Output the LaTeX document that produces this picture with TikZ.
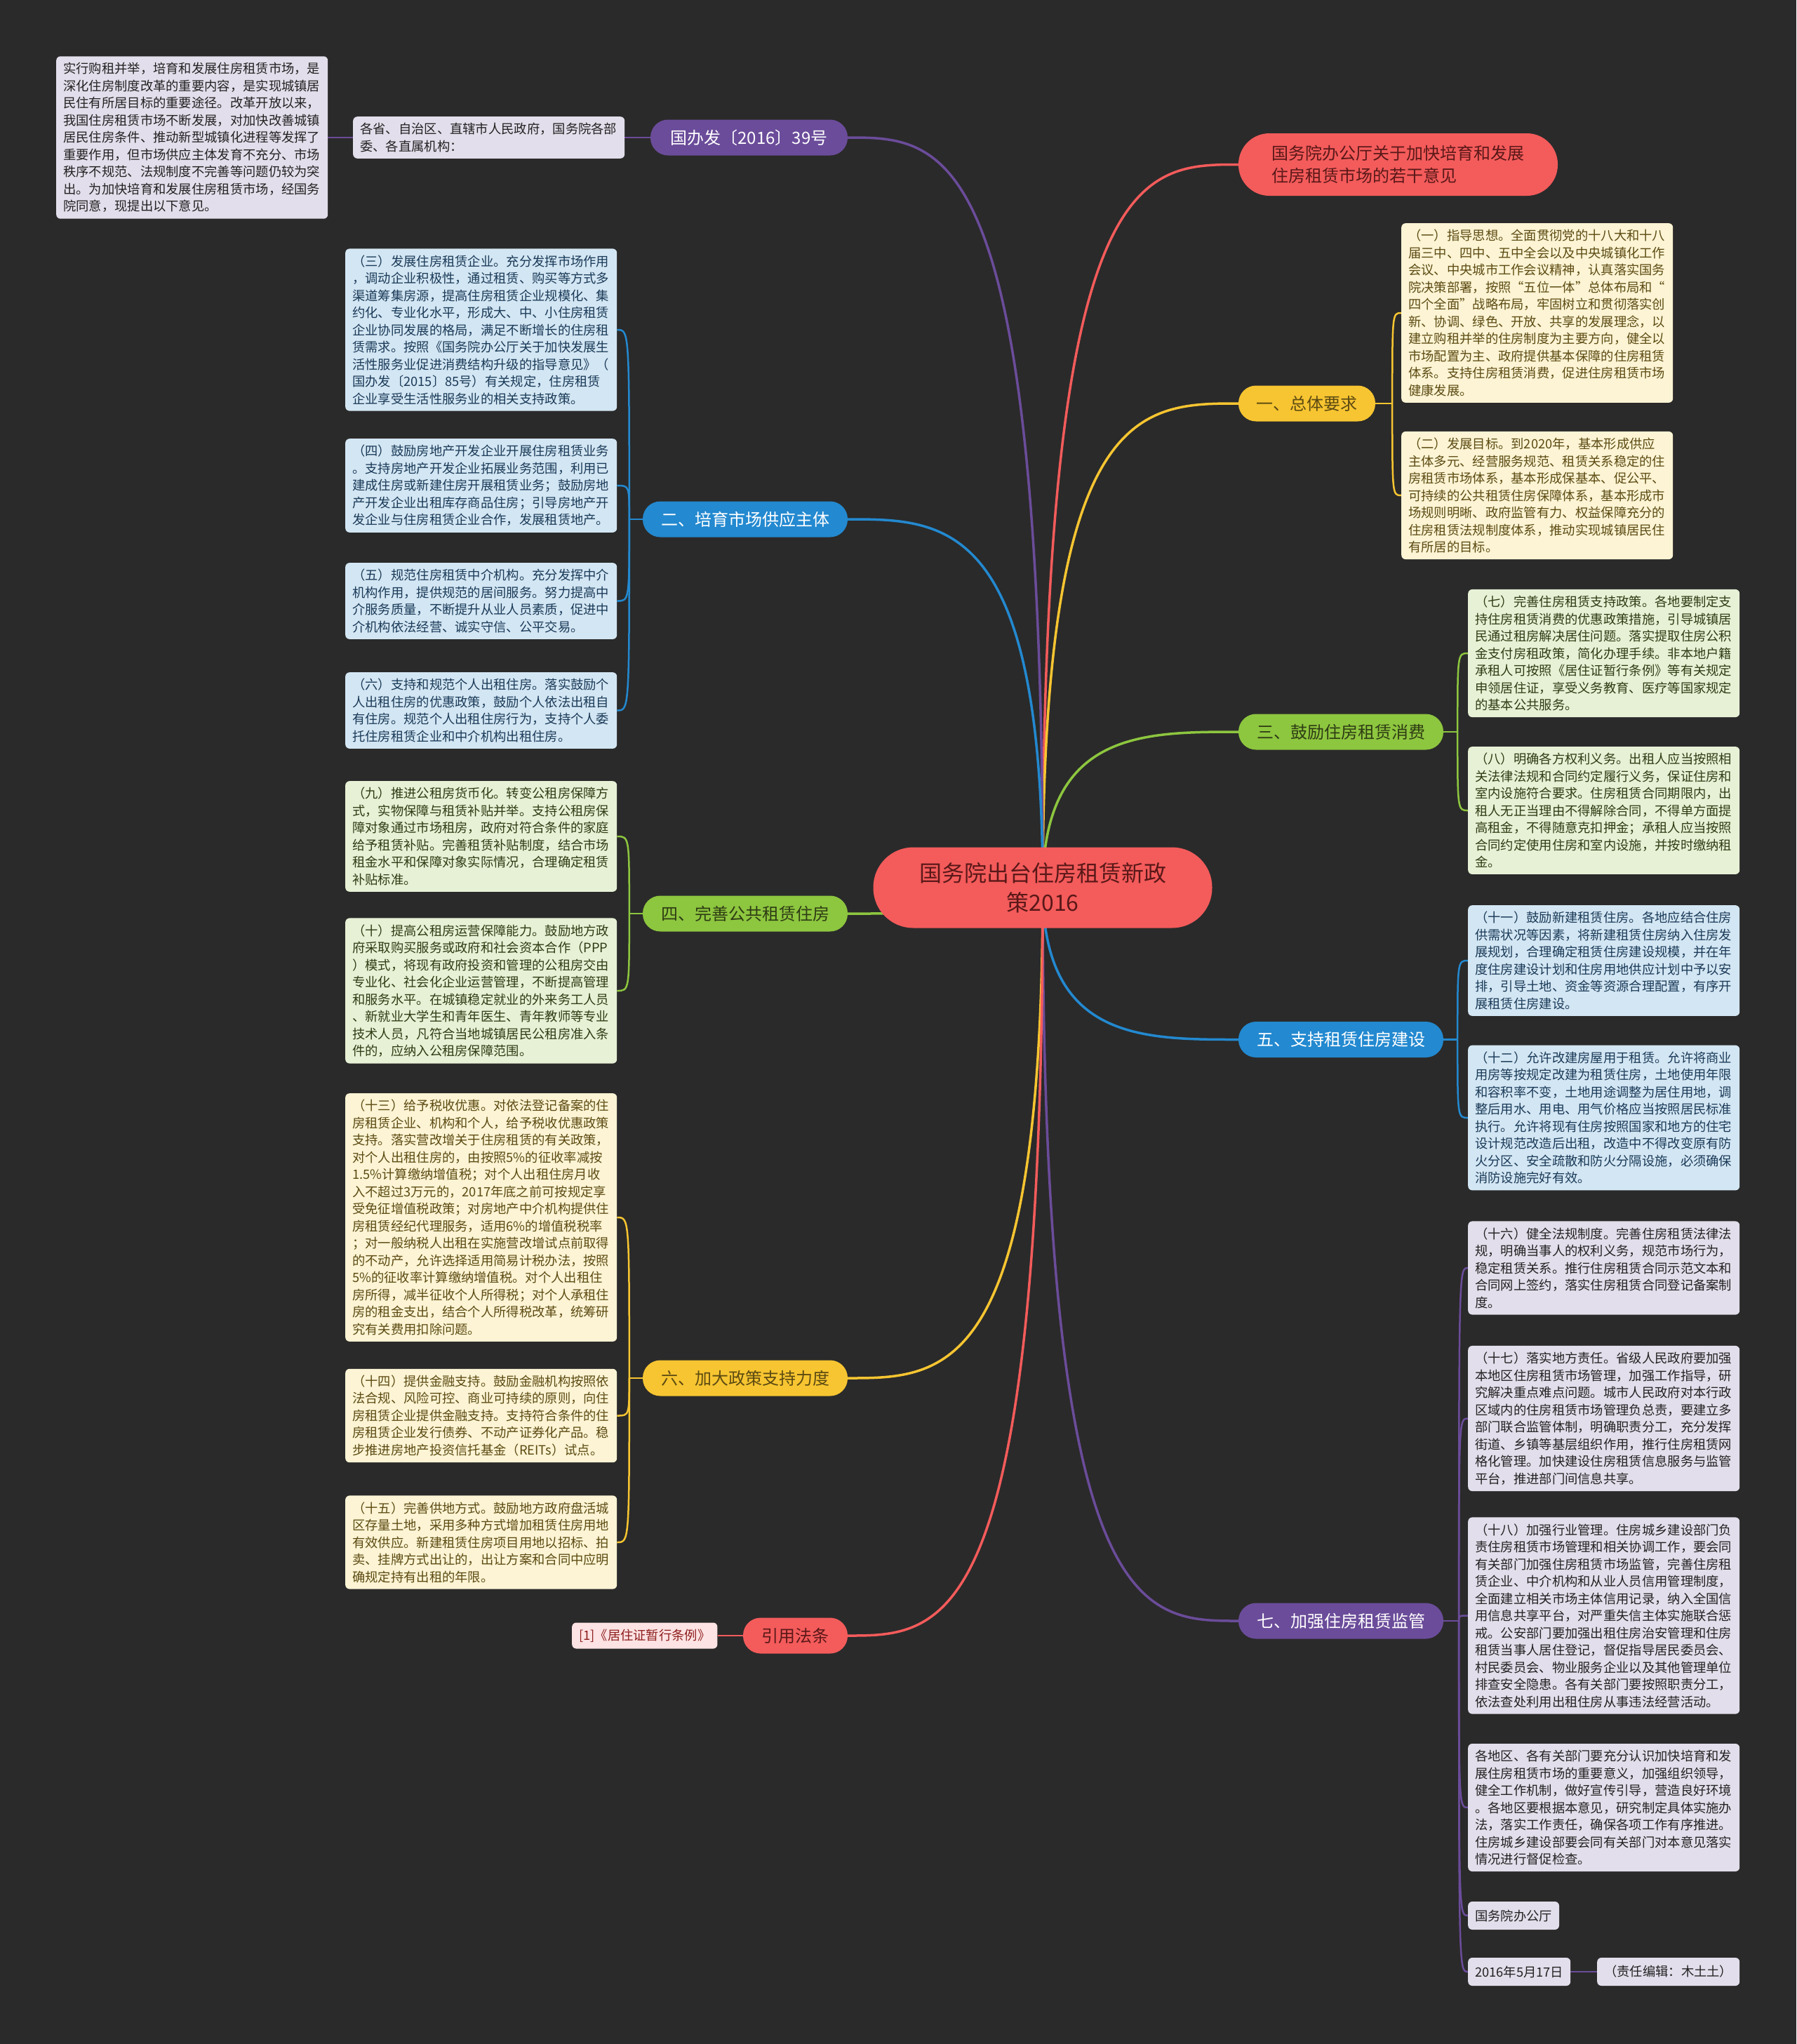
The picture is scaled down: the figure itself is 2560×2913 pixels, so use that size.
\documentclass[tikz,border=0pt]{standalone}
\usepackage{fontspec}
\setmainfont{Noto Sans CJK SC}
\usetikzlibrary{calc}
\definecolor{bgc}{HTML}{2A2A2A}
\definecolor{cRed}{HTML}{F45B5B}
\definecolor{cYel}{HTML}{F7C531}
\definecolor{cGrn}{HTML}{8DC63F}
\definecolor{cBlu}{HTML}{2389D0}
\definecolor{cPur}{HTML}{6B4C9A}
\definecolor{fLav}{HTML}{E3DEEB}
\definecolor{fBlu}{HTML}{D3E6F3}
\definecolor{fGrn}{HTML}{E7F1D6}
\definecolor{fYel}{HTML}{FCF4D4}
\definecolor{fPnk}{HTML}{FDE3E3}
\definecolor{tDark}{HTML}{222222}
\definecolor{tBlu}{HTML}{1A3A58}
\definecolor{tGrn}{HTML}{2E3C14}
\definecolor{tYel}{HTML}{5C4A12}
\definecolor{tRed}{HTML}{5A1818}
\definecolor{tPnk}{HTML}{8E1E1E}
\pgfdeclarelayer{bg}
\pgfsetlayers{bg,main}
\tikzset{
  leafbox/.style={rounded corners=6pt, inner xsep=10pt, inner ysep=9pt, text width=367pt, align=left, anchor=west, font=\fontsize{18.3}{24.5}\selectfont},
  tagbox/.style={rounded corners=6pt, inner xsep=10pt, inner ysep=0pt, minimum height=40pt, anchor=west, font=\fontsize{18.3}{24.5}\selectfont},
  lav/.style={fill=fLav, text=tDark},
  lblu/.style={fill=fBlu, text=tBlu},
  lgrn/.style={fill=fGrn, text=tGrn},
  lyel/.style={fill=fYel, text=tYel},
  lpnk/.style={fill=fPnk, text=tPnk},
  pill/.style={rounded corners=25pt, inner sep=0pt, minimum height=51pt, font=\fontsize{24}{32}\selectfont},
  edge/.style={line width=3.5pt},
  sub/.style={line width=2.5pt},
}
\begin{document}
\begin{tikzpicture}[x=1pt,y=-1pt]
\useasboundingbox (0,0) rectangle (2560,2913);

% ---------- root ----------
\node[rounded corners=57pt, fill=cRed, text=tRed, minimum width=483pt, minimum height=115pt, inner sep=0pt, align=center, font=\fontsize{32}{42}\selectfont] (root) at (1486,1265) {国务院出台住房租赁新政\\策2016};

% ---------- branches ----------
\node[pill, fill=cRed, text=tRed, minimum width=455pt, minimum height=89pt, rounded corners=44pt, align=left] (t0) at (1992.5,234.5) {国务院办公厅关于加快培育和发展\\住房租赁市场的若干意见};
\node[pill, fill=cYel, text=tYel, minimum width=195pt] (b1) at (1862.5,575) {一、总体要求};
\node[pill, fill=cGrn, text=tGrn, minimum width=292pt] (b3) at (1911,1043) {三、鼓励住房租赁消费};
\node[pill, fill=cBlu, text=white, minimum width=292pt] (b5) at (1911,1481.5) {五、支持租赁住房建设};
\node[pill, fill=cPur, text=white, minimum width=292pt] (b7) at (1911,2310) {七、加强住房租赁监管};

\node[pill, fill=cPur, text=white, minimum width=281pt] (gb) at (1067.5,196) {国办发〔2016〕39号};
\node[pill, fill=cBlu, text=white, minimum width=292pt] (b2) at (1062,740) {二、培育市场供应主体};
\node[pill, fill=cGrn, text=tGrn, minimum width=292pt] (b4) at (1062,1302) {四、完善公共租赁住房};
\node[pill, fill=cYel, text=tYel, minimum width=292pt] (b6) at (1062,1964) {六、加大政策支持力度};
\node[pill, fill=cRed, text=tRed, minimum width=149pt] (yy) at (1133.5,2331) {引用法条};

% ---------- left leaves ----------
\node[leafbox, lav] (tl) at (80,196) {实行购租并举，培育和发展住房租赁市场，是\\深化住房制度改革的重要内容，是实现城镇居\\民住有所居目标的重要途径。改革开放以来，\\我国住房租赁市场不断发展，对加快改善城镇\\居民住房条件、推动新型城镇化进程等发挥了\\重要作用，但市场供应主体发育不充分、市场\\秩序不规范、法规制度不完善等问题仍较为突\\出。为加快培育和发展住房租赁市场，经国务\\院同意，现提出以下意见。};
\node[leafbox, lav] (gs) at (503,196) {各省、自治区、直辖市人民政府，国务院各部\\委、各直属机构：};

\node[leafbox, lblu] (l3) at (492,470) {（三）发展住房租赁企业。充分发挥市场作用\\，调动企业积极性，通过租赁、购买等方式多\\渠道筹集房源，提高住房租赁企业规模化、集\\约化、专业化水平，形成大、中、小住房租赁\\企业协同发展的格局，满足不断增长的住房租\\赁需求。按照《国务院办公厅关于加快发展生\\活性服务业促进消费结构升级的指导意见》（\\国办发〔2015〕85号）有关规定，住房租赁\\企业享受生活性服务业的相关支持政策。};
\node[leafbox, lblu] (l4) at (492,692) {（四）鼓励房地产开发企业开展住房租赁业务\\。支持房地产开发企业拓展业务范围，利用已\\建成住房或新建住房开展租赁业务；鼓励房地\\产开发企业出租库存商品住房；引导房地产开\\发企业与住房租赁企业合作，发展租赁地产。};
\node[leafbox, lblu] (l5) at (492,856.5) {（五）规范住房租赁中介机构。充分发挥中介\\机构作用，提供规范的居间服务。努力提高中\\介服务质量，不断提升从业人员素质，促进中\\介机构依法经营、诚实守信、公平交易。};
\node[leafbox, lblu] (l6) at (492,1012.5) {（六）支持和规范个人出租住房。落实鼓励个\\人出租住房的优惠政策，鼓励个人依法出租自\\有住房。规范个人出租住房行为，支持个人委\\托住房租赁企业和中介机构出租住房。};

\node[leafbox, lgrn] (l9) at (492,1192) {（九）推进公租房货币化。转变公租房保障方\\式，实物保障与租赁补贴并举。支持公租房保\\障对象通过市场租房，政府对符合条件的家庭\\给予租赁补贴。完善租赁补贴制度，结合市场\\租金水平和保障对象实际情况，合理确定租赁\\补贴标准。};
\node[leafbox, lgrn] (l10) at (492,1412) {（十）提高公租房运营保障能力。鼓励地方政\\府采取购买服务或政府和社会资本合作（PPP\\）模式，将现有政府投资和管理的公租房交由\\专业化、社会化企业运营管理，不断提高管理\\和服务水平。在城镇稳定就业的外来务工人员\\、新就业大学生和青年医生、青年教师等专业\\技术人员，凡符合当地城镇居民公租房准入条\\件的，应纳入公租房保障范围。};

\node[leafbox, lyel] (l13) at (492,1735) {（十三）给予税收优惠。对依法登记备案的住\\房租赁企业、机构和个人，给予税收优惠政策\\支持。落实营改增关于住房租赁的有关政策，\\对个人出租住房的，由按照5\%的征收率减按\\1.5\%计算缴纳增值税；对个人出租住房月收\\入不超过3万元的，2017年底之前可按规定享\\受免征增值税政策；对房地产中介机构提供住\\房租赁经纪代理服务，适用6\%的增值税税率\\；对一般纳税人出租在实施营改增试点前取得\\的不动产，允许选择适用简易计税办法，按照\\5\%的征收率计算缴纳增值税。对个人出租住\\房所得，减半征收个人所得税；对个人承租住\\房的租金支出，结合个人所得税改革，统筹研\\究有关费用扣除问题。};
\node[leafbox, lyel] (l14) at (492,2017.5) {（十四）提供金融支持。鼓励金融机构按照依\\法合规、风险可控、商业可持续的原则，向住\\房租赁企业提供金融支持。支持符合条件的住\\房租赁企业发行债券、不动产证券化产品。稳\\步推进房地产投资信托基金（REITs）试点。};
\node[leafbox, lyel] (l15) at (492,2198) {（十五）完善供地方式。鼓励地方政府盘活城\\区存量土地，采用多种方式增加租赁住房用地\\有效供应。新建租赁住房项目用地以招标、拍\\卖、挂牌方式出让的，出让方案和合同中应明\\确规定持有出租的年限。};

\node[tagbox, lpnk, minimum height=37pt] (ref) at (815,2331) {[1]《居住证暂行条例》};

% ---------- right leaves ----------
\node[leafbox, lyel] (l1) at (1997,446) {（一）指导思想。全面贯彻党的十八大和十八\\届三中、四中、五中全会以及中央城镇化工作\\会议、中央城市工作会议精神，认真落实国务\\院决策部署，按照“五位一体”总体布局和“\\四个全面”战略布局，牢固树立和贯彻落实创\\新、协调、绿色、开放、共享的发展理念，以\\建立购租并举的住房制度为主要方向，健全以\\市场配置为主、政府提供基本保障的住房租赁\\体系。支持住房租赁消费，促进住房租赁市场\\健康发展。};
\node[leafbox, lyel] (l2) at (1997,706) {（二）发展目标。到2020年，基本形成供应\\主体多元、经营服务规范、租赁关系稳定的住\\房租赁市场体系，基本形成保基本、促公平、\\可持续的公共租赁住房保障体系，基本形成市\\场规则明晰、政府监管有力、权益保障充分的\\住房租赁法规制度体系，推动实现城镇居民住\\有所居的目标。};

\node[leafbox, lgrn] (l7) at (2092,931) {（七）完善住房租赁支持政策。各地要制定支\\持住房租赁消费的优惠政策措施，引导城镇居\\民通过租房解决居住问题。落实提取住房公积\\金支付房租政策，简化办理手续。非本地户籍\\承租人可按照《居住证暂行条例》等有关规定\\申领居住证，享受义务教育、医疗等国家规定\\的基本公共服务。};
\node[leafbox, lgrn] (l8) at (2092,1155) {（八）明确各方权利义务。出租人应当按照相\\关法律法规和合同约定履行义务，保证住房和\\室内设施符合要求。住房租赁合同期限内，出\\租人无正当理由不得解除合同，不得单方面提\\高租金，不得随意克扣押金；承租人应当按照\\合同约定使用住房和室内设施，并按时缴纳租\\金。};

\node[leafbox, lblu] (l11) at (2092,1369) {（十一）鼓励新建租赁住房。各地应结合住房\\供需状况等因素，将新建租赁住房纳入住房发\\展规划，合理确定租赁住房建设规模，并在年\\度住房建设计划和住房用地供应计划中予以安\\排，引导土地、资金等资源合理配置，有序开\\展租赁住房建设。};
\node[leafbox, lblu] (l12) at (2092,1593) {（十二）允许改建房屋用于租赁。允许将商业\\用房等按规定改建为租赁住房，土地使用年限\\和容积率不变，土地用途调整为居住用地，调\\整后用水、用电、用气价格应当按照居民标准\\执行。允许将现有住房按照国家和地方的住宅\\设计规范改造后出租，改造中不得改变原有防\\火分区、安全疏散和防火分隔设施，必须确保\\消防设施完好有效。};

\node[leafbox, lav] (l16) at (2092,1807) {（十六）健全法规制度。完善住房租赁法律法\\规，明确当事人的权利义务，规范市场行为，\\稳定租赁关系。推行住房租赁合同示范文本和\\合同网上签约，落实住房租赁合同登记备案制\\度。};
\node[leafbox, lav] (l17) at (2092,2021.5) {（十七）落实地方责任。省级人民政府要加强\\本地区住房租赁市场管理，加强工作指导，研\\究解决重点难点问题。城市人民政府对本行政\\区域内的住房租赁市场管理负总责，要建立多\\部门联合监管体制，明确职责分工，充分发挥\\街道、乡镇等基层组织作用，推行住房租赁网\\格化管理。加快建设住房租赁信息服务与监管\\平台，推进部门间信息共享。};
\node[leafbox, lav] (l18) at (2092,2302.5) {（十八）加强行业管理。住房城乡建设部门负\\责住房租赁市场管理和相关协调工作，要会同\\有关部门加强住房租赁市场监管，完善住房租\\赁企业、中介机构和从业人员信用管理制度，\\全面建立相关市场主体信用记录，纳入全国信\\用信息共享平台，对严重失信主体实施联合惩\\戒。公安部门要加强出租住房治安管理和住房\\租赁当事人居住登记，督促指导居民委员会、\\村民委员会、物业服务企业以及其他管理单位\\排查安全隐患。各有关部门要按照职责分工，\\依法查处利用出租住房从事违法经营活动。};
\node[leafbox, lav] (l19) at (2092,2576) {各地区、各有关部门要充分认识加快培育和发\\展住房租赁市场的重要意义，加强组织领导，\\健全工作机制，做好宣传引导，营造良好环境\\。各地区要根据本意见，研究制定具体实施办\\法，落实工作责任，确保各项工作有序推进。\\住房城乡建设部要会同有关部门对本意见落实\\情况进行督促检查。};
\node[tagbox, lav] (gw) at (2092,2730) {国务院办公厅};
\node[tagbox, lav] (d1) at (2092,2810) {2016年5月17日};
\node[tagbox, lav] (d2) at (2276,2810) {（责任编辑：木土土）};

% ---------- connectors ----------
\begin{pgfonlayer}{bg}
\fill[bgc] (0,0) rectangle (2560,2913);
% root to branches (right)
\draw[edge,cRed] (root.center) .. controls (root.center |- t0.west) and ($(root.center |- t0.west)!0.5!(t0.west)$) .. (t0.west);
\draw[edge,cYel] (root.center) .. controls (root.center |- b1.west) and ($(root.center |- b1.west)!0.5!(b1.west)$) .. (b1.west);
\draw[edge,cGrn] (root.center) .. controls (root.center |- b3.west) and ($(root.center |- b3.west)!0.5!(b3.west)$) .. (b3.west);
\draw[edge,cBlu] (root.center) .. controls (root.center |- b5.west) and ($(root.center |- b5.west)!0.5!(b5.west)$) .. (b5.west);
\draw[edge,cPur] (root.center) .. controls (root.center |- b7.west) and ($(root.center |- b7.west)!0.5!(b7.west)$) .. (b7.west);
% root to branches (left)
\draw[edge,cPur] (root.center) .. controls (root.center |- gb.east) and ($(root.center |- gb.east)!0.5!(gb.east)$) .. (gb.east);
\draw[edge,cBlu] (root.center) .. controls (root.center |- b2.east) and ($(root.center |- b2.east)!0.5!(b2.east)$) .. (b2.east);
\draw[edge,cGrn] (root.center) .. controls (root.center |- b4.east) and ($(root.center |- b4.east)!0.5!(b4.east)$) .. (b4.east);
\draw[edge,cYel] (root.center) .. controls (root.center |- b6.east) and ($(root.center |- b6.east)!0.5!(b6.east)$) .. (b6.east);
\draw[edge,cRed] (root.center) .. controls (root.center |- yy.east) and ($(root.center |- yy.east)!0.5!(yy.east)$) .. (yy.east);

% single links
\draw[sub,cPur] (gb.west) -- (gs.east);
\draw[sub,cPur] (gs.west) -- (tl.east);
\draw[sub,cRed] (yy.west) -- (ref.east);
\draw[sub,cPur] (d1.east) -- (d2.west);

% brackets right
\coordinate (j1) at ($(b1.east)+(24,0)$);
\draw[sub,cYel] (b1.east) -- (j1);
\foreach \l in {l1,l2} \draw[sub,cYel] (j1) .. controls (j1 |- \l.west) .. (\l.west);
\coordinate (j3) at ($(b3.east)+(20,0)$);
\draw[sub,cGrn] (b3.east) -- (j3);
\foreach \l in {l7,l8} \draw[sub,cGrn] (j3) .. controls (j3 |- \l.west) .. (\l.west);
\coordinate (j5) at ($(b5.east)+(20,0)$);
\draw[sub,cBlu] (b5.east) -- (j5);
\foreach \l in {l11,l12} \draw[sub,cBlu] (j5) .. controls (j5 |- \l.west) .. (\l.west);
\coordinate (j7) at ($(b7.east)+(22,0)$);
\draw[sub,cPur] (b7.east) -- (j7);
\foreach \l in {l16,l17,l18,l19,gw,d1} \draw[sub,cPur] (j7) .. controls (j7 |- \l.west) .. (\l.west);
% brackets left
\coordinate (j2) at ($(b2.west)+(-19,0)$);
\draw[sub,cBlu] (b2.west) -- (j2);
\foreach \l in {l3,l4,l5,l6} \draw[sub,cBlu] (j2) .. controls (j2 |- \l.east) .. (\l.east);
\coordinate (j4) at ($(b4.west)+(-19,0)$);
\draw[sub,cGrn] (b4.west) -- (j4);
\foreach \l in {l9,l10} \draw[sub,cGrn] (j4) .. controls (j4 |- \l.east) .. (\l.east);
\coordinate (j6) at ($(b6.west)+(-19,0)$);
\draw[sub,cYel] (b6.west) -- (j6);
\foreach \l in {l13,l14,l15} \draw[sub,cYel] (j6) .. controls (j6 |- \l.east) .. (\l.east);
\end{pgfonlayer}
\end{tikzpicture}
\end{document}
